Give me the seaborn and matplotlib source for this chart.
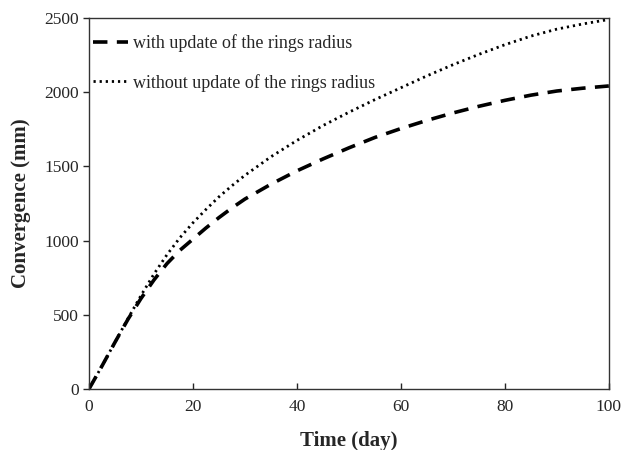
import numpy as np
import pandas as pd
import matplotlib
matplotlib.use("Agg")
import matplotlib.pyplot as plt
import seaborn as sns

# time in days
days = [0, 2.5, 5, 7.5, 10, 12.5, 15, 17.5, 20, 22.5, 25, 27.5, 30,
        35, 40, 45, 50, 55, 60, 65, 70, 75, 80, 85, 90, 95, 100]
# convergence (mm)
with_update = [0, 155, 315, 470, 610, 735, 845, 935, 1010, 1085, 1155, 1220, 1280,
               1380, 1470, 1550, 1625, 1695, 1755, 1810, 1860, 1905, 1945, 1980,
               2008, 2027, 2042]
without_update = [0, 155, 315, 475, 630, 775, 905, 1020, 1120, 1210, 1295, 1370, 1440,
                  1565, 1675, 1775, 1865, 1950, 2030, 2110, 2185, 2255, 2320, 2378,
                  2425, 2460, 2490]

label_with = 'with update of the rings radius'
label_without = 'without update of the rings radius'

df = pd.DataFrame({'day': days, 'with': with_update, 'without': without_update})

sns.set_style('ticks')
plt.rcParams['font.family'] = ['Liberation Serif', 'DejaVu Serif']

fig = plt.figure(figsize=(6.29, 4.5), dpi=100)
ax = fig.add_axes([0.1415, 0.1356, 0.8265, 0.8244])

sns.lineplot(data=df, x='day', y='with', ax=ax, color='black', linewidth=2.6,
             label=label_with)
ax.lines[-1].set_dashes([4, 2.6])
sns.lineplot(data=df, x='day', y='without', ax=ax, color='black', linewidth=2.0,
             label=label_without)
ax.lines[-1].set_dashes([0.8, 1.4])

ax.set_xlim(0, 100)
ax.set_ylim(0, 2500)
ax.set_xticks([0, 20, 40, 60, 80, 100])
ax.set_yticks([0, 500, 1000, 1500, 2000, 2500])
ax.tick_params(axis='x', direction='in', length=4, width=1, labelsize=12.5, pad=7)
ax.tick_params(axis='y', direction='out', length=4, width=1, labelsize=12.5, pad=3)
for sp in ax.spines.values():
    sp.set_linewidth(1)
    sp.set_color('#333333')

ax.set_xlabel('Time (day)', fontsize=15, fontweight='bold', labelpad=12)
ax.set_ylabel('Convergence (mm)', fontsize=15, fontweight='bold', labelpad=10)

ax.legend(loc='upper left', bbox_to_anchor=(-0.016, 0.99), frameon=False,
          fontsize=13, handlelength=1.9, handletextpad=0.3, labelspacing=1.2,
          borderaxespad=0.3)

fig.savefig('out.png', dpi=100)
